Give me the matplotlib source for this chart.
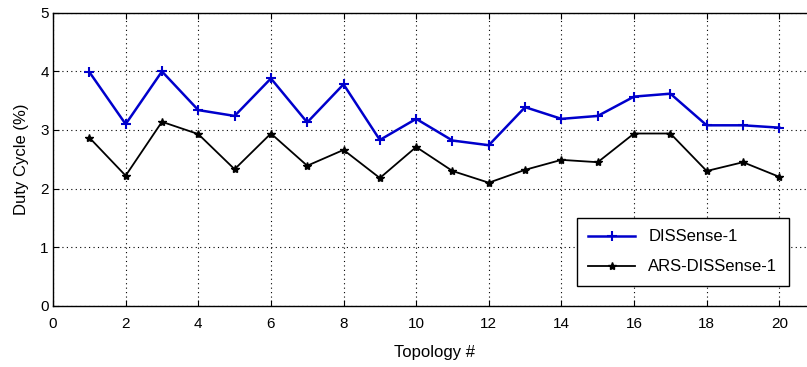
import matplotlib
matplotlib.use('Agg')
import matplotlib.pyplot as plt

plt.rcParams['font.family'] = ['Liberation Sans', 'DejaVu Sans']

topology = list(range(1, 21))
dissense = [3.99, 3.10, 4.00, 3.34, 3.24, 3.88, 3.13, 3.78, 2.83, 3.19,
            2.82, 2.74, 3.39, 3.19, 3.24, 3.57, 3.62, 3.08, 3.08, 3.04]
ars_dissense = [2.87, 2.22, 3.14, 2.93, 2.33, 2.94, 2.39, 2.66, 2.18, 2.71,
                2.30, 2.10, 2.32, 2.49, 2.45, 2.94, 2.94, 2.30, 2.45, 2.20]

fig = plt.figure(figsize=(8.07, 3.67), dpi=100)
ax = fig.add_axes([0.0657, 0.167, 0.945, 0.798])

ax.plot(topology, dissense, color='#0000cc', marker='+', markersize=7,
        markeredgewidth=1.5, linewidth=1.8, label='DISSense-1')
ax.plot(topology, ars_dissense, color='black', marker='*', markersize=6,
        linewidth=1.3, label='ARS-DISSense-1')

ax.set_xlim(0, 21)
ax.set_ylim(0, 5)
ax.set_xticks(range(0, 21, 2))
ax.set_yticks(range(0, 6))
ax.grid(True, linestyle=(0, (1, 3)), color='black', linewidth=0.8)
ax.tick_params(direction='in', labelsize=11, length=4, top=True, right=True)
ax.tick_params(axis='x', pad=8)
ax.tick_params(axis='y', pad=3)
for s in ax.spines.values():
    s.set_linewidth(1.0)

ax.set_xlabel('Topology #', fontsize=12, labelpad=10)
ax.set_ylabel('Duty Cycle (%)', fontsize=12, labelpad=8)

leg = ax.legend(loc='lower right', bbox_to_anchor=(0.965, 0.067), fontsize=12,
                fancybox=False, framealpha=1, edgecolor='black',
                handlelength=2.8, borderpad=0.7, labelspacing=0.9,
                borderaxespad=0)
leg.get_frame().set_linewidth(1.0)

fig.savefig('out.png', dpi=100)
